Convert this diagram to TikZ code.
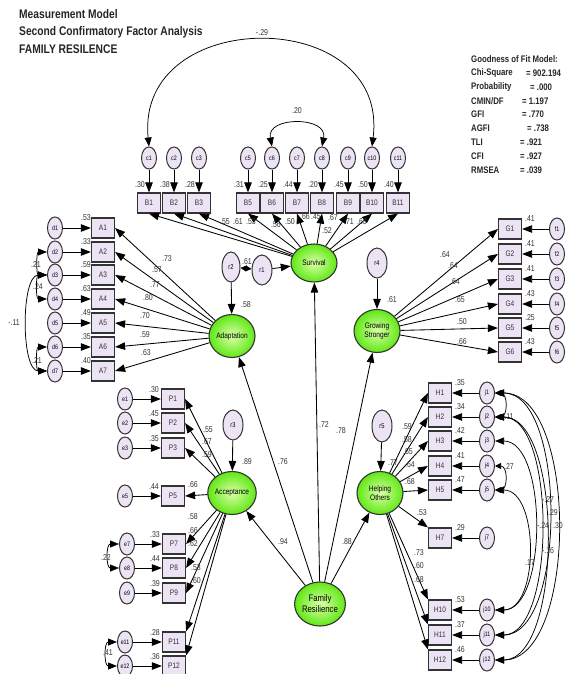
\documentclass[tikz,border=0pt]{standalone}
\usepackage{fontspec}
\setmainfont{Liberation Sans}[FakeStretch=0.82]
\usetikzlibrary{arrows.meta,shapes.geometric}
\definecolor{lav}{RGB}{236,228,244}
\definecolor{lgreen}{RGB}{220,255,170}
\definecolor{dgreen}{RGB}{95,232,20}
\begin{document}
\begin{tikzpicture}[x=1pt,y=-1pt,
 obs/.style={draw=black!80, line width=1.2pt, fill=lav, minimum width=23pt, minimum height=20pt, inner sep=0pt, font=\fontsize{8}{8}\selectfont, text=black!80},
 err/.style={ellipse, draw=black!80, line width=1pt, fill=lav, minimum width=15pt, minimum height=22pt, inner sep=0pt, font=\fontsize{6.5}{7}\selectfont},
 res/.style={ellipse, draw=black!80, line width=1pt, fill=lav, minimum width=20pt, minimum height=30pt, inner sep=0pt, font=\fontsize{7}{7}\selectfont},
 lat/.style={ellipse, draw=black!80, line width=1.1pt, inner color=lgreen, outer color=dgreen, minimum width=46pt, minimum height=43pt, inner sep=0pt, align=center, font=\fontsize{8}{9}\selectfont},
 lab/.style={inner sep=0pt, font=\fontsize{8.5}{9}\selectfont, text=black!80},
 arr/.style={-{Triangle[length=10pt,width=7.5pt]}, line width=0.85pt},
 cov/.style={{Triangle[length=9pt,width=7pt]}-{Triangle[length=9pt,width=7pt]}, line width=0.75pt},
 scov/.style={{Triangle[length=6pt,width=6pt]}-{Triangle[length=6pt,width=6pt]}, line width=0.75pt},
]
\useasboundingbox (0,0) rectangle (569,674);
\fill[white] (0,0) rectangle (569,674);

% title
\node[anchor=north west, align=left, inner sep=0pt, font=\bfseries\fontsize{12.5}{17.5}\selectfont, text=black!85] (title) at (19,9)
 {Measurement Model\\Second Confirmatory Factor Analysis\\FAMILY RESILENCE};

% goodness of fit
\begin{scope}[every node/.style={anchor=west, inner sep=0pt, font=\bfseries\fontsize{9.5}{10}\selectfont, text=black!85}]
\node (g0) at (471,59) {Goodness of Fit Model:};
\node (g1) at (471,73) {Chi-Square}; \node (v1) at (526,73) {= 902.194};
\node (g2) at (471,87) {Probability}; \node (v2) at (530,87) {= .000};
\node (g3) at (471,101) {CMIN/DF}; \node (v3) at (522,101) {= 1.197};
\node (g4) at (471,114) {GFI}; \node (v4) at (522,114) {= .770};
\node (g5) at (471,128) {AGFI}; \node (v5) at (527,128) {= .738};
\node (g6) at (471,142) {TLI}; \node (v6) at (520,142) {= .921};
\node (g7) at (471,156) {CFI}; \node (v7) at (520,156) {= .927};
\node (g8) at (471,170) {RMSEA}; \node (v8) at (520,170) {= .039};
\end{scope}

% ---------- Survival ----------
\node[lat, minimum height=38pt] (surv) at (314,263) {Survival};
\foreach \n/\x/\r in {1/149/.30, 2/174/.38, 3/199/.28, 5/248/.31, 6/272/.25, 7/297/.44, 8/322/.20, 9/348/.45, 10/372/.50, 11/398/.40} {
  \node[err] (c\n) at (\x,158) {c\n};
  \node[obs] (B\n) at (\x,203) {B\n};
  \node[lab] at (\x-9,185) {\r};
  \draw[arr] (c\n) -- (B\n);
  \draw[arr] (surv) -- (B\n.south);
}
\foreach \x/\y/\v in {225/222/.55, 238/222/.61, 251/222/.53, 276/225/.56, 290/222/.50, 305/217/.66, 316/217/.45, 333/218/.67, 349/222/.71, 362/222/.63, 327/231/.52}
  \node[lab] at (\x,\y) {\v};
\draw[cov] (c1.north) .. controls (135,5) and (390,5) .. (c10.north);
\node[lab] at (262,33) {-.29};
\draw[cov] (c6.north) .. controls (266,116) and (328,116) .. (c8.north);
\node[lab] at (297,111) {.20};

% ---------- Adaptation ----------
\node[lat] (adapt) at (232,336) {Adaptation};
\foreach \i/\y/\r in {1/228/.53, 2/252/.33, 3/275/.59, 4/299/.63, 5/323/.49, 6/347/.35, 7/371/.40} {
  \node[obs] (A\i) at (103,\y) {A\i};
  \node[err] (d\i) at (55,\y) {d\i};
  \node[lab] at (86,\y-10) {\r};
  \draw[arr] (d\i) -- (A\i);
  \draw[arr] (adapt) -- (A\i.east);
}
\foreach \x/\y/\v in {167/259/.73, 157/270/.57, 155/285/.77, 148/298/.80, 145/316/.70, 145/335/.59, 146/353/.63}
  \node[lab] at (\x,\y) {\v};
\draw[cov] (d2.west) to[out=180,in=180,looseness=1.2] (d3.west);
\draw[cov] (d3.west) to[out=180,in=180,looseness=1.2] (d4.west);
\draw[cov] (d3.west) to[out=180,in=180,looseness=0.7] (d7.west);
\draw[cov] (d6.west) to[out=180,in=180,looseness=1.2] (d7.west);
\node[lab] at (36,265) {.21};
\node[lab] at (38,287) {.24};
\node[lab] at (14,323) {-.11};
\node[lab] at (37,361) {.21};

\node[res, minimum width=18pt] (r2) at (231,267) {r2};
\node[res] (r1) at (262,270) {r1};
\draw[arr] (r2) -- (adapt);
\draw[arr] (r1) -- (surv);
\draw[scov] (r2) -- (r1);
\node[lab] at (247,262) {.61};
\node[lab] at (246,305) {.58};

% ---------- Growing Stronger ----------
\node[lat] (grow) at (377,331) {Growing\\Stronger};
\node[res] (r4) at (377,263) {r4};
\draw[arr] (r4) -- (grow);
\foreach \i/\y/\r in {1/229/.41, 2/254/.41, 3/279/.41, 4/304/.43, 5/328/.25, 6/352/.43} {
  \node[obs] (G\i) at (510,\y) {G\i};
  \node[err] (f\i) at (557,\y) {f\i};
  \node[lab] at (530,\y-10) {\r};
  \draw[arr] (f\i) -- (G\i);
  \draw[arr] (grow) -- (G\i.west);
}
\foreach \x/\y/\v in {445/255/.64, 453/266/.64, 455/282/.64, 460/300/.65, 462/322/.50, 462/342/.66, 392/300/.61}
  \node[lab] at (\x,\y) {\v};

% ---------- Acceptance ----------
\node[lat] (acc) at (232,493) {Acceptance};
\node[res] (r3) at (233,425) {r3};
\draw[arr] (r3) -- (acc);
\foreach \i/\x/\ex/\y/\r in {1/173/125/399/.30, 2/173/125/423/.45, 3/173/125/448/.35, 5/173/125/496/.44, 7/174/127/544/.33, 8/174/127/568/.44, 9/174/127/593/.39, 11/174/125/642/.28, 12/174/125/666/.36} {
  \node[obs] (P\i) at (\x,\y) {P\i};
  \node[err] (e\i) at (\ex,\y) {e\i};
  \node[lab] at (\x-19,\y-9) {\r};
  \draw[arr] (e\i) -- (P\i);
}
\foreach \i in {1,2,3,5,7,8,9} \draw[arr] (acc) -- (P\i.east);
\draw[arr] (acc) -- (P11.north east);
\draw[arr] (acc) -- (P12.north east);
\foreach \x/\y/\v in {208/430/.55, 207/442/.67, 207/455/.59, 193/485/.66, 193/517/.58, 193/531/.66, 193/544/.62, 196/568/.53, 196/581/.60, 247/462/.89}
  \node[lab] at (\x,\y) {\v};
\draw[cov] (e7.west) to[out=180,in=180,looseness=1.4] (e8.west);
\draw[cov] (e11.west) to[out=180,in=180,looseness=1.4] (e12.west);
\node[lab] at (106,558) {.22};
\node[lab] at (108,653) {.41};

% ---------- Helping Others ----------
\node[lat] (help) at (380,493) {Helping\\Others};
\node[res, minimum height=32pt] (r5) at (382,426) {r5};
\draw[arr] (r5) -- (help);
\foreach \i/\y/\r in {1/393/.35, 2/417/.34, 3/441/.42, 4/466/.41, 5/490/.47, 7/538/.29, 10/610/.53, 11/635/.37, 12/660/.46} {
  \node[obs] (H\i) at (440,\y) {H\i};
  \node[err] (j\i) at (487,\y) {j\i};
  \node[lab] at (460,\y-10) {\r};
  \draw[arr] (j\i) -- (H\i);
}
\foreach \i in {1,2,3,4,5} \draw[arr] (help) -- (H\i.west);
\foreach \i in {7,10,11,12} \draw[arr] (help) -- (H\i.north west);
\foreach \x/\y/\v in {407/427/.59, 407/440/.58, 408/452/.65, 410/465/.64, 410/482/.68, 422/513/.53, 393/463/.77, 419/553/.73, 419/566/.60, 419/580/.68}
  \node[lab] at (\x,\y) {\v};
\draw[scov] (j1.east) to[out=0,in=0,looseness=1.4] (j2.east);
\draw[scov] (j4.east) to[out=0,in=0,looseness=1.4] (j5.east);
\node[lab] at (509,417) {.11};
\node[lab] at (509,467) {.27};
\draw[cov] (j1.east) to[out=0,in=0,looseness=0.76] (j11.east);
\draw[cov] (j1.east) to[out=0,in=0,looseness=0.8] (j12.east);
\draw[cov] (j2.east) to[out=0,in=0,looseness=0.72] (j12.east);
\draw[cov] (j2.east) to[out=0,in=0,looseness=0.72] (j11.east);
\draw[cov] (j3.east) to[out=0,in=0,looseness=0.8] (j10.east);
\draw[cov] (j5.east) to[out=0,in=0,looseness=0.95] (j10.east);
\node[lab] at (548,500) {-.27};
\node[lab] at (553,513) {.29};
\node[lab] at (543,526) {-.24};
\node[lab] at (558,526) {.30};
\node[lab] at (548,551) {-.16};
\node[lab] at (530,563) {.17};

% ---------- Family Resilience ----------
\node[lat, minimum width=46pt, minimum height=44pt, font=\fontsize{9.5}{11}\selectfont] (fam) at (320,604) {Family\\Resilience};
\draw[arr] (fam) -- (acc);
\draw[arr] (fam) -- (help);
\draw[arr] (fam) -- (adapt);
\draw[arr] (fam) -- (surv);
\draw[arr] (fam) -- (grow);
\node[lab] at (283,542) {.94};
\node[lab] at (347,542) {.88};
\node[lab] at (283,462) {.76};
\node[lab] at (324,425) {.72};
\node[lab] at (341,431) {.78};
\end{tikzpicture}
\end{document}
